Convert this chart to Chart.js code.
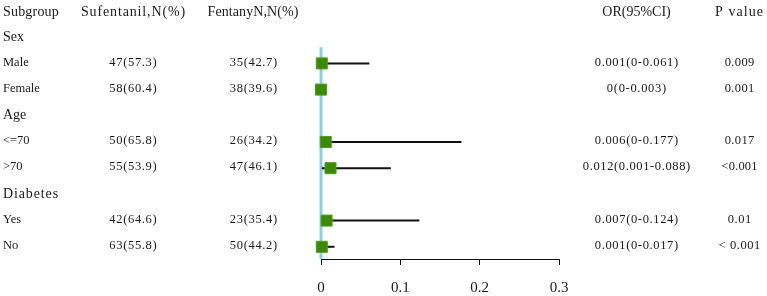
<!DOCTYPE html>
<html>
<head>
<meta charset="utf-8">
<script src="https://cdn.jsdelivr.net/npm/chart.js@4/dist/chart.umd.min.js"></script>
<style>
  html, body { margin: 0; padding: 0; background: #fff; }
  #wrap { width: 767px; height: 296px; position: relative; }
</style>
</head>
<body>
<div id="wrap"><canvas id="c" width="767" height="296"></canvas></div>
<script>
// ---- data ----
const columnHeaders = ['Subgroup', 'Sufentanil,N(%)', 'FentanyN,N(%)', 'OR(95%CI)', 'P value'];
const groupNames = ['Sex', 'Age', 'Diabetes'];
const subgroups = ['Male', 'Female', '<=70', '>70', 'Yes', 'No'];
const sufentanilN = ['47(57.3)', '58(60.4)', '50(65.8)', '55(53.9)', '42(64.6)', '63(55.8)'];
const fentanylN = ['35(42.7)', '38(39.6)', '26(34.2)', '47(46.1)', '23(35.4)', '50(44.2)'];
const orValues = [0.001, 0, 0.006, 0.012, 0.007, 0.001];
const ciLower = [0, 0, 0, 0.001, 0, 0];
const ciUpper = [0.061, 0.003, 0.177, 0.088, 0.124, 0.017];
const orLabels = ['0.001(0-0.061)', '0(0-0.003)', '0.006(0-0.177)', '0.012(0.001-0.088)', '0.007(0-0.124)', '0.001(0-0.017)'];
const pValues = ['0.009', '0.001', '0.017', '<0.001', '0.01', '< 0.001'];
const xTicks = [0, 0.1, 0.2, 0.3];
const xTickLabels = ['0', '0.1', '0.2', '0.3'];

// ---- layout (row index per subgroup: 2 subgroups under each group) ----
const groupRow = g => 1 + g * 3;
const subRow = i => 2 + Math.floor(i / 2) * 3 + (i % 2);

const FONT = '"Liberation Serif", "DejaVu Serif", serif';
const TEXT = '#1a1a1a';

const pointData = orValues.map((v, i) => ({ x: v, y: subRow(i) }));
const ciDatasets = ciLower.map((lo, i) => ({
  type: 'line',
  data: [{ x: lo, y: subRow(i) }, { x: ciUpper[i], y: subRow(i) }],
  borderColor: '#111',
  borderWidth: 2,
  pointRadius: 0,
  clip: false,
  order: 1
}));

// serif text spread with letter spacing so it spans n * cw px (like the half-width CJK font)
function drawSpread(ctx, text, x, y, size, cw, align) {
  ctx.font = size + 'px ' + FONT;
  ctx.letterSpacing = '0px';
  const natural = ctx.measureText(text).width;
  const n = Array.from(text).length;
  const target = n * cw;
  const ls = Math.max(0, (target - natural) / n);
  const vis = natural + ls * (n - 1);
  const x0 = align === 'center' ? x - vis / 2 : (align === 'right' ? x - vis : x);
  ctx.letterSpacing = ls.toFixed(2) + 'px';
  ctx.textAlign = 'left';
  ctx.fillText(text, x0, y);
  ctx.letterSpacing = '0px';
}

const textPlugin = {
  id: 'tableText',
  afterDraw(chart) {
    const ctx = chart.ctx;
    const y = chart.scales.y;
    ctx.save();
    ctx.fillStyle = TEXT;
    ctx.textBaseline = 'middle';
    const hy = y.getPixelForValue(0) + 1;
    drawSpread(ctx, columnHeaders[0], 3, hy, 14, 7, 'left');
    drawSpread(ctx, columnHeaders[1], 133, hy, 14, 7, 'center');
    drawSpread(ctx, columnHeaders[2], 253, hy, 14, 7, 'center');
    drawSpread(ctx, columnHeaders[3], 636.5, hy, 14, 7, 'center');
    drawSpread(ctx, columnHeaders[4], 739, hy, 14, 7, 'center');
    groupNames.forEach((g, k) => drawSpread(ctx, g, 3, y.getPixelForValue(groupRow(k)), 14, 7, 'left'));
    subgroups.forEach((s, i) => {
      const py = y.getPixelForValue(subRow(i)) - 1;
      drawSpread(ctx, s, 3, py, 12.5, 6, 'left');
      drawSpread(ctx, sufentanilN[i], 133, py, 12.5, 6, 'center');
      drawSpread(ctx, fentanylN[i], 253.5, py, 12.5, 6, 'center');
      drawSpread(ctx, orLabels[i], 636.5, py, 12.5, 6, 'center');
      drawSpread(ctx, pValues[i], 739.5, py, 12.5, 6, 'center');
    });
    ctx.restore();
  }
};

new Chart(document.getElementById('c'), {
  type: 'scatter',
  data: {
    datasets: [
      {
        data: pointData,
        pointStyle: 'rect',
        pointRadius: 7.8,
        pointHoverRadius: 7.8,
        backgroundColor: '#3b8a06',
        borderColor: '#4f9c1c',
        borderWidth: 1,
        clip: false,
        order: 0
      },
      ...ciDatasets,
      {
        type: 'line',
        data: [{ x: 0, y: 1.38 }, { x: 0, y: 9.47 }],
        borderColor: '#8ccfdb',
        borderWidth: 3,
        pointRadius: 0,
        clip: false,
        order: 2
      }
    ]
  },
  options: {
    responsive: false,
    animation: false,
    events: [],
    layout: { autoPadding: false, padding: { left: 321, right: 208, top: 0, bottom: 0 } },
    plugins: { legend: { display: false }, tooltip: { enabled: false } },
    scales: {
      x: {
        type: 'linear',
        min: 0,
        max: 0.3,
        afterBuildTicks: s => { s.ticks = xTicks.map(v => ({ value: v })); },
        afterFit: s => { s.height = 37; },
        ticks: {
          callback: (v, i) => xTickLabels[i],
          font: { family: FONT, size: 15 },
          color: TEXT,
          padding: 14,
          maxRotation: 0
        },
        grid: { drawOnChartArea: false, drawTicks: true, tickLength: 6, color: '#111', lineWidth: 1 },
        border: { display: true, color: '#111', width: 1 }
      },
      y: {
        type: 'linear',
        display: false,
        reverse: true,
        min: -0.42,
        max: 9.466
      }
    }
  },
  plugins: [textPlugin]
});
</script>
</body>
</html>
